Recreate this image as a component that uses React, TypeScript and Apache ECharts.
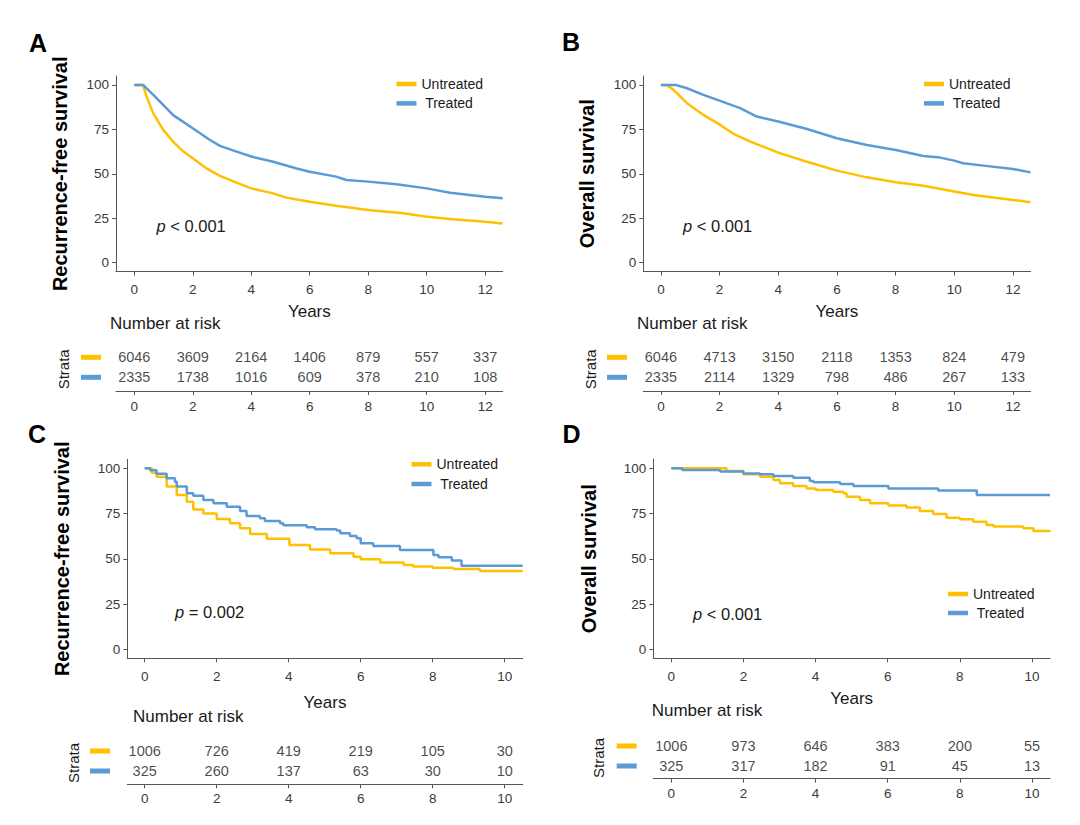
import React, { useEffect, useRef } from "react";
import * as echarts from "echarts";

const UNTREATED = "Untreated";
const TREATED = "Treated";
const YELLOW = "#FFC000";
const BLUE = "#5B9BD5";
const FONT = "'Liberation Sans', Arial, Helvetica, sans-serif";

const yearTicksAB = [0, 2, 4, 6, 8, 10, 12];
const yearTicksCD = [0, 2, 4, 6, 8, 10];
const survTicks = [0, 25, 50, 75, 100];

// Panel A: recurrence-free survival (%), [years, survival]
const rfsA_untreated = [
  [0, 100], [0.3, 100], [0.42, 93.4], [0.65, 84], [0.99, 74.7], [1.33, 68], [1.68, 62.5],
  [2.0, 58.7], [2.47, 53], [2.93, 48.8], [3.5, 45], [4.0, 41.8], [4.75, 39], [5.2, 36.6],
  [6.0, 34.3], [6.9, 32], [8.0, 29.6], [9.2, 27.8], [10.0, 25.9], [10.9, 24.4], [12.0, 23], [12.6, 22.1],
];
const rfsA_treated = [
  [0, 100], [0.3, 100], [0.65, 94.4], [0.99, 88.7], [1.33, 83], [2.0, 75.6], [2.59, 69],
  [2.93, 65.7], [3.5, 62.5], [4.0, 59.7], [4.75, 56.8], [5.55, 53], [6.0, 51.2], [6.9, 48.4],
  [7.26, 46.5], [8.0, 45.6], [8.97, 44.1], [10.0, 41.8], [10.8, 39.4], [12.0, 37.1], [12.6, 36.2],
];

// Panel B: overall survival (%)
const osB_untreated = [
  [0, 100], [0.2, 100], [0.43, 97.2], [0.89, 89.7], [1.45, 83.1], [2.02, 77.5], [2.48, 72.4],
  [3.05, 68.1], [4.0, 61.9], [4.98, 56.8], [6.0, 51.8], [7.02, 48], [8.01, 45.2], [8.95, 43.3],
  [10.0, 40], [10.66, 38.1], [12.0, 35.3], [12.6, 34],
];
const osB_treated = [
  [0, 100], [0.5, 100], [0.89, 98.1], [1.45, 94.4], [2.02, 91], [2.7, 86.9], [3.27, 82.2],
  [4.0, 79.4], [4.98, 75.2], [6.0, 70], [7.02, 66.2], [8.01, 63.4], [8.95, 60], [9.52, 59.1],
  [10.0, 57.4], [10.3, 55.9], [11.0, 54.6], [12.0, 52.7], [12.6, 50.8],
];

// Panel C: recurrence-free survival (%), step points
const rfsC_untreated = [
  [0, 100], [0.2, 97.5], [0.33, 95.4], [0.61, 89.9], [0.89, 85.3], [1.17, 81.6], [1.35, 77.3],
  [1.63, 75.1], [2.0, 72], [2.37, 69.6], [2.65, 66.9], [2.93, 63.7], [3.39, 61.1], [4.02, 57.6],
  [4.59, 55.2], [5.15, 53], [5.8, 51.2], [6.0, 49.7], [6.54, 47.9], [7.19, 46.6], [7.46, 45.7],
  [8.0, 45.1], [8.57, 44.4], [9.31, 43.3], [10.5, 43.3],
];
const rfsC_treated = [
  [0, 100], [0.15, 99], [0.33, 97], [0.61, 94.5], [0.84, 92.6], [0.89, 89.9], [1.17, 86.2],
  [1.35, 84.9], [1.63, 82.5], [1.91, 80.7], [2.28, 78.8], [2.65, 76.4], [2.83, 73.7], [3.2, 72.4],
  [3.34, 70.9], [3.76, 69.6], [3.85, 68.5], [4.5, 67.4], [4.73, 66.3], [5.33, 65.6], [5.43, 64.1],
  [5.7, 62.6], [5.89, 61.3], [6.0, 58.6], [6.35, 57.1], [7.09, 54.9], [8.02, 52.1], [8.16, 50.8],
  [8.53, 49], [8.8, 46.2], [10.5, 46.2],
];

// Panel D: overall survival (%), step points
const osD_untreated = [
  [0, 100], [1.2, 100], [1.53, 98.5], [2.0, 96.7], [2.46, 95.4], [2.83, 93.6], [3.01, 91.7],
  [3.38, 90.2], [3.75, 88.9], [4.01, 88], [4.49, 87.1], [4.77, 86.2], [4.86, 84.3], [5.23, 82.5],
  [5.51, 80.7], [6.02, 79.4], [6.52, 78.3], [6.89, 76.4], [7.26, 74.8], [7.63, 72.7], [8.0, 71.8],
  [8.37, 70.5], [8.74, 68.7], [8.93, 67.8], [9.76, 66.9], [10.04, 65.4], [10.5, 65],
];
const osD_treated = [
  [0, 100], [0.3, 99.1], [1.35, 98.2], [2.0, 97.2], [2.46, 96.7], [2.83, 95.8], [3.38, 94.8],
  [3.84, 93], [3.94, 92.3], [4.68, 91.3], [5.05, 90.2], [6.02, 88.9], [7.4, 87.7], [8.47, 85.3],
  [10.5, 85.3],
];

// Number at risk
const riskA_untreated = [6046, 3609, 2164, 1406, 879, 557, 337];
const riskA_treated = [2335, 1738, 1016, 609, 378, 210, 108];
const riskB_untreated = [6046, 4713, 3150, 2118, 1353, 824, 479];
const riskB_treated = [2335, 2114, 1329, 798, 486, 267, 133];
const riskC_untreated = [1006, 726, 419, 219, 105, 30];
const riskC_treated = [325, 260, 137, 63, 30, 10];
const riskD_untreated = [1006, 973, 646, 383, 200, 55];
const riskD_treated = [325, 317, 182, 91, 45, 13];

const pA = "< 0.001";
const pB = "< 0.001";
const pC = "= 0.002";
const pD = "< 0.001";

type PanelCfg = {
  letter: string;
  ytitle: string;
  grid: { left: number; top: number; width: number; height: number };
  xmin: number;
  xmax: number;
  ticks: number[];
  yNameGap: number;
  xNameGap: number;
  table: { top: number; height: number; ymin: number; labelMargin: number };
  untreated: number[][];
  treated: number[][];
  riskU: number[];
  riskT: number[];
  step: false | "end";
  legend: { left: number; top: number; gap: number };
  letterPos: [number, number];
  pPos: [number, number];
  pText: string;
  narPos: [number, number];
  strataX: number;
  keyX: number;
  keyRows: [number, number];
};

const panels: PanelCfg[] = [
  {
    letter: "A", ytitle: "Recurrence-free survival",
    grid: { left: 116, top: 76, width: 386.7, height: 195.6 },
    xmin: -0.625, xmax: 12.6, ticks: yearTicksAB, yNameGap: 46, xNameGap: 31,
    table: { top: 337, height: 54, ymin: -0.7, labelMargin: 8 },
    untreated: rfsA_untreated, treated: rfsA_treated, riskU: riskA_untreated, riskT: riskA_treated,
    step: false, legend: { left: 396.5, top: 77, gap: 5.4 }, letterPos: [38, 43],
    pPos: [156.5, 226], pText: pA, narPos: [110, 323], strataX: 63, keyX: 81, keyRows: [357.3, 377.3],
  },
  {
    letter: "B", ytitle: "Overall survival",
    grid: { left: 643.3, top: 76, width: 387.2, height: 195.6 },
    xmin: -0.6, xmax: 12.6, ticks: yearTicksAB, yNameGap: 46.5, xNameGap: 31,
    table: { top: 337, height: 54, ymin: -0.7, labelMargin: 8 },
    untreated: osB_untreated, treated: osB_treated, riskU: riskB_untreated, riskT: riskB_treated,
    step: false, legend: { left: 924, top: 77, gap: 5.4 }, letterPos: [571, 42],
    pPos: [683, 226], pText: pB, narPos: [637, 323], strataX: 590, keyX: 607, keyRows: [357.3, 377.3],
  },
  {
    letter: "C", ytitle: "Recurrence-free survival",
    grid: { left: 127.3, top: 459.3, width: 395.4, height: 199 },
    xmin: -0.483, xmax: 10.5, ticks: yearTicksCD, yNameGap: 55.5, xNameGap: 35.5,
    table: { top: 730.9, height: 53.4, ymin: -0.67, labelMargin: 6.7 },
    untreated: rfsC_untreated, treated: rfsC_treated, riskU: riskC_untreated, riskT: riskC_treated,
    step: "end", legend: { left: 411.5, top: 457.3, gap: 5.7 }, letterPos: [37, 434],
    pPos: [175, 611.7], pText: pC, narPos: [133, 716.7], strataX: 73, keyX: 90, keyRows: [751, 771],
  },
  {
    letter: "D", ytitle: "Overall survival",
    grid: { left: 653.3, top: 459.3, width: 396.7, height: 199 },
    xmin: -0.5, xmax: 10.5, ticks: yearTicksCD, yNameGap: 54, xNameGap: 32,
    table: { top: 726, height: 52.7, ymin: -0.635, labelMargin: 8 },
    untreated: osD_untreated, treated: osD_treated, riskU: riskD_untreated, riskT: riskD_treated,
    step: "end", legend: { left: 948, top: 587, gap: 5 }, letterPos: [571.5, 434],
    pPos: [693, 614], pText: pD, narPos: [651.7, 710], strataX: 598, keyX: 616.7, keyRows: [746, 766],
  },
];

const AXIS_COLOR = "#555555";
const LABEL_COLOR = "#3a3a3a";

function buildOption() {
  const grid: any[] = [];
  const xAxis: any[] = [];
  const yAxis: any[] = [];
  const series: any[] = [];
  const legend: any[] = [];
  const graphic: any[] = [];

  panels.forEach((p, i) => {
    const gPlot = i * 2;
    const gTable = i * 2 + 1;
    grid.push({ ...p.grid, containLabel: false });
    grid.push({ left: p.grid.left, width: p.grid.width, top: p.table.top, height: p.table.height, containLabel: false });

    const axisLineStyle = { lineStyle: { color: AXIS_COLOR, width: 1 } };
    xAxis.push({
      type: "value", gridIndex: gPlot, min: p.xmin, max: p.xmax,
      axisLine: { show: true, onZero: false, ...axisLineStyle },
      axisTick: { show: true, length: 4, customValues: p.ticks, lineStyle: { color: AXIS_COLOR } },
      axisLabel: { customValues: p.ticks, margin: 11, fontSize: 13.5, color: LABEL_COLOR, fontFamily: FONT },
      splitLine: { show: false },
      name: "Years", nameLocation: "middle", nameGap: p.xNameGap,
      nameTextStyle: { fontSize: 17, color: "#1a1a1a", fontFamily: FONT },
    });
    yAxis.push({
      type: "value", gridIndex: gPlot, min: -5, max: 105,
      axisLine: { show: true, onZero: false, ...axisLineStyle },
      axisTick: { show: true, length: 4, customValues: survTicks, lineStyle: { color: AXIS_COLOR } },
      axisLabel: { customValues: survTicks, margin: 7, fontSize: 13.5, color: LABEL_COLOR, fontFamily: FONT },
      splitLine: { show: false },
      name: p.ytitle, nameLocation: "middle", nameGap: p.yNameGap, nameRotate: 90,
      nameTextStyle: { fontSize: 20, fontWeight: "bold", color: "#000", fontFamily: FONT },
    });
    xAxis.push({
      type: "value", gridIndex: gTable, min: p.xmin, max: p.xmax,
      axisLine: { show: true, onZero: false, ...axisLineStyle },
      axisTick: { show: true, length: 4, customValues: p.ticks, lineStyle: { color: AXIS_COLOR } },
      axisLabel: { customValues: p.ticks, margin: p.table.labelMargin, fontSize: 13.5, color: LABEL_COLOR, fontFamily: FONT },
      splitLine: { show: false },
    });
    yAxis.push({ type: "value", gridIndex: gTable, min: p.table.ymin, max: 2, show: false });

    const lineBase = {
      type: "line", xAxisIndex: gPlot, yAxisIndex: gPlot, symbol: "none", showSymbol: false,
      step: p.step, silent: true, animation: false,
    };
    series.push({ ...lineBase, name: UNTREATED, data: p.untreated, lineStyle: { color: YELLOW, width: 2.5 }, itemStyle: { color: YELLOW } });
    series.push({ ...lineBase, name: TREATED, data: p.treated, lineStyle: { color: BLUE, width: 2.5 }, itemStyle: { color: BLUE } });

    const riskBase = {
      type: "scatter", xAxisIndex: gTable, yAxisIndex: gTable, symbolSize: 1, silent: true,
      itemStyle: { color: "rgba(0,0,0,0)" },
      label: {
        show: true, position: "inside", fontSize: 14.5, color: "#1a1a1a", fontFamily: FONT,
        formatter: (q: any) => String(q.value[2]),
      },
    };
    series.push({ ...riskBase, name: "Untreated at risk " + p.letter, data: p.ticks.map((t, k) => [t, 1, p.riskU[k]]) });
    series.push({ ...riskBase, name: "Treated at risk " + p.letter, data: p.ticks.map((t, k) => [t, 0, p.riskT[k]]) });

    legend.push({
      left: p.legend.left, top: p.legend.top, orient: "vertical", padding: 0,
      itemGap: p.legend.gap, itemWidth: 20, itemHeight: 4.5,
      data: [{ name: UNTREATED, icon: "rect" }, { name: TREATED, icon: "rect" }],
      formatter: (n: string) => (n === TREATED ? " " + n : n),
      textStyle: { fontSize: 14, color: "#1a1a1a", fontFamily: FONT, padding: [0, 0, 0, 0] },
      selectedMode: false,
    });

    graphic.push({
      type: "text", x: p.letterPos[0], y: p.letterPos[1],
      style: { text: p.letter, font: `bold 25px ${FONT}`, fill: "#000", align: "center", verticalAlign: "middle" },
    });
    graphic.push({
      type: "text", x: p.pPos[0], y: p.pPos[1],
      style: {
        text: `{i|p} {n|${p.pText}}`,
        rich: {
          i: { fontStyle: "italic", fontSize: 16.5, fontFamily: FONT, fill: "#1a1a1a" },
          n: { fontSize: 16.5, fontFamily: FONT, fill: "#1a1a1a" },
        },
        fontSize: 16.5, fontFamily: FONT, fill: "#1a1a1a", align: "left", verticalAlign: "middle",
      },
    });
    graphic.push({
      type: "text", x: p.narPos[0], y: p.narPos[1],
      style: { text: "Number at risk", fontSize: 17, fontFamily: FONT, fill: "#1a1a1a", align: "left", verticalAlign: "middle" },
    });
    const strataY = (p.keyRows[0] + p.keyRows[1]) / 2 + 2;
    graphic.push({
      type: "text", x: p.strataX, y: strataY, rotation: Math.PI / 2,
      style: { text: "Strata", fontSize: 15, fontFamily: FONT, fill: "#1a1a1a", align: "center", verticalAlign: "middle" },
    });
    graphic.push({
      type: "rect", shape: { x: p.keyX, y: p.keyRows[0] - 2.5, width: 20, height: 5 }, style: { fill: YELLOW },
    });
    graphic.push({
      type: "rect", shape: { x: p.keyX, y: p.keyRows[1] - 2.5, width: 20, height: 5 }, style: { fill: BLUE },
    });
  });

  return {
    animation: false,
    backgroundColor: "#ffffff",
    textStyle: { fontFamily: FONT },
    grid, xAxis, yAxis, series, legend, graphic,
  };
}

export default function App() {
  const ref = useRef<HTMLDivElement>(null);
  useEffect(() => {
    if (!ref.current) return;
    const chart = echarts.init(ref.current, undefined, { renderer: "svg" });
    chart.setOption(buildOption() as any);
    return () => chart.dispose();
  }, []);
  return (
    <div
      ref={ref}
      style={{ position: "absolute", left: 0, top: 0, width: 1080, height: 825, background: "#fff" }}
    />
  );
}
